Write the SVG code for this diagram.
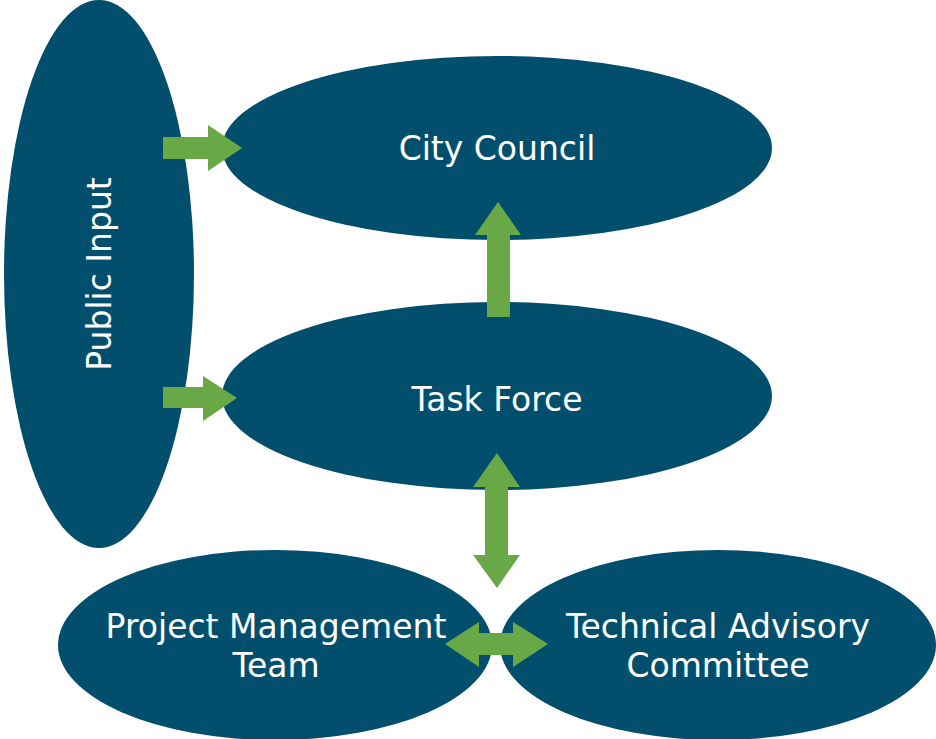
<svg xmlns="http://www.w3.org/2000/svg" width="936" height="739" viewBox="0 0 936 739">
<style>
.node{fill:#024F6D}
.lbl{font-family:"DejaVu Sans",Verdana,sans-serif;font-size:33px;fill:#ffffff;text-anchor:middle}
.arr{fill:#69A846}
</style>
<rect width="936" height="739" fill="#ffffff"/>
<g id="public-input"><ellipse class="node" cx="99" cy="274" rx="95" ry="274"/><text class="lbl" transform="translate(111,274) rotate(-90)" x="0" y="0">Public Input</text></g>
<g id="city-council"><ellipse class="node" cx="497" cy="148" rx="275" ry="92"/><text class="lbl" x="497" y="160">City Council</text></g>
<g id="task-force"><ellipse class="node" cx="497" cy="396" rx="275" ry="94"/><text class="lbl" x="497" y="411">Task Force</text></g>
<g id="pmt"><ellipse class="node" cx="275" cy="645" rx="217" ry="95"/><text class="lbl" x="276" y="638">Project Management</text><text class="lbl" x="276" y="677">Team</text></g>
<g id="tac"><ellipse class="node" cx="718" cy="645" rx="218" ry="95"/><text class="lbl" x="718" y="638">Technical Advisory</text><text class="lbl" x="718" y="677">Committee</text></g>
<g id="connectors">
<polygon class="arr" points="163,137 208,137 208,125 242,148 208,171 208,159 163,159"/>
<polygon class="arr" points="163,387 203,387 203,376 237,398 203,421 203,408 163,408"/>
<polygon class="arr" points="487,317 487,235 475,235 498,202 521,235 510,235 510,317"/>
<polygon class="arr" points="497,453 520,487 508,487 508,555 520,555 497,588 473,555 485,555 485,487 473,487"/>
<polygon class="arr" points="445,644 479,622 479,633 513,633 513,622 548,644 513,667 513,655 479,655 479,667"/>
</g>
</svg>
